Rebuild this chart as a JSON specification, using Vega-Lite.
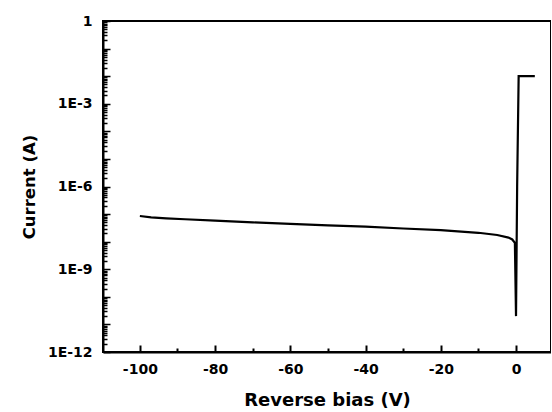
{
  "$schema": "https://vega.github.io/schema/vega-lite/v6.json",
  "width": 448,
  "height": 331,
  "autosize": {"type": "none"},
  "padding": {"left": 103, "top": 21, "right": 0, "bottom": 60},
  "background": "white",
  "config": {
    "view": {"stroke": "black", "strokeWidth": 2},
    "axis": {
      "domainColor": "black", "domainWidth": 2,
      "tickColor": "black", "tickWidth": 2,
      "labelFont": "DejaVu Sans", "labelFontWeight": "bold", "labelFontSize": 14, "labelColor": "black",
      "titleFont": "DejaVu Sans", "titleFontWeight": "bold", "titleFontSize": 18, "titleColor": "black",
      "grid": false
    }
  },
  "data": {
    "values": [
      {"i": 1, "v": -100, "a": 8.5e-8},
      {"i": 2, "v": -97, "a": 7.6e-8},
      {"i": 3, "v": -93, "a": 7.0e-8},
      {"i": 4, "v": -88, "a": 6.5e-8},
      {"i": 5, "v": -80, "a": 5.8e-8},
      {"i": 6, "v": -70, "a": 5.0e-8},
      {"i": 7, "v": -60, "a": 4.4e-8},
      {"i": 8, "v": -50, "a": 3.9e-8},
      {"i": 9, "v": -40, "a": 3.5e-8},
      {"i": 10, "v": -30, "a": 3.0e-8},
      {"i": 11, "v": -20, "a": 2.6e-8},
      {"i": 12, "v": -10, "a": 2.1e-8},
      {"i": 13, "v": -5, "a": 1.75e-8},
      {"i": 14, "v": -2, "a": 1.4e-8},
      {"i": 15, "v": -1, "a": 1.2e-8},
      {"i": 16, "v": -0.3, "a": 9e-9},
      {"i": 17, "v": 0, "a": 2e-11},
      {"i": 18, "v": 0.3, "a": 1e-6},
      {"i": 19, "v": 0.7, "a": 1e-2},
      {"i": 20, "v": 5, "a": 1e-2}
    ]
  },
  "mark": {"type": "line", "color": "black", "strokeWidth": 2.2, "clip": true},
  "encoding": {
    "order": {"field": "i", "type": "quantitative"},
    "x": {
      "field": "v", "type": "quantitative",
      "scale": {"domain": [-109.8, 9.3], "nice": false, "zero": false},
      "axis": {
        "title": "Reverse bias (V)",
        "values": [-100, -90, -80, -70, -60, -50, -40, -30, -20, -10, 0],
        "labelExpr": "datum.value % 20 == 0 ? '' + datum.value : ''",
        "tickSize": {"condition": {"test": "datum.value % 20 == 0", "value": -7}, "value": -4},
        "labelPadding": 17,
        "titlePadding": 15
      }
    },
    "y": {
      "field": "a", "type": "quantitative",
      "scale": {"type": "log", "domain": [1e-12, 1], "nice": false},
      "axis": {
        "title": "Current (A)",
        "titleFontSize": 16.5,
        "values": [1e-12,2e-12,3e-12,4e-12,5e-12,6e-12,7e-12,8e-12,9e-12,
                   1e-11,2e-11,3e-11,4e-11,5e-11,6e-11,7e-11,8e-11,9e-11,
                   1e-10,2e-10,3e-10,4e-10,5e-10,6e-10,7e-10,8e-10,9e-10,
                   1e-9,2e-9,3e-9,4e-9,5e-9,6e-9,7e-9,8e-9,9e-9,
                   1e-8,2e-8,3e-8,4e-8,5e-8,6e-8,7e-8,8e-8,9e-8,
                   1e-7,2e-7,3e-7,4e-7,5e-7,6e-7,7e-7,8e-7,9e-7,
                   1e-6,2e-6,3e-6,4e-6,5e-6,6e-6,7e-6,8e-6,9e-6,
                   1e-5,2e-5,3e-5,4e-5,5e-5,6e-5,7e-5,8e-5,9e-5,
                   1e-4,2e-4,3e-4,4e-4,5e-4,6e-4,7e-4,8e-4,9e-4,
                   1e-3,2e-3,3e-3,4e-3,5e-3,6e-3,7e-3,8e-3,9e-3,
                   1e-2,2e-2,3e-2,4e-2,5e-2,6e-2,7e-2,8e-2,9e-2,
                   1e-1,2e-1,3e-1,4e-1,5e-1,6e-1,7e-1,8e-1,9e-1,1],
        "labelExpr": "abs(log(datum.value)/LN10 - round(log(datum.value)/LN10)) < 0.001 && round(log(datum.value)/LN10) % 3 == 0 ? (round(log(datum.value)/LN10) == 0 ? '1' : '1E' + round(log(datum.value)/LN10)) : ''",
        "tickSize": {"condition": {"test": "abs(log(datum.value)/LN10 - round(log(datum.value)/LN10)) < 0.001", "value": -7}, "value": -4},
        "tickWidth": 1.5,
        "labelPadding": 18,
        "titlePadding": 10
      }
    }
  }
}
